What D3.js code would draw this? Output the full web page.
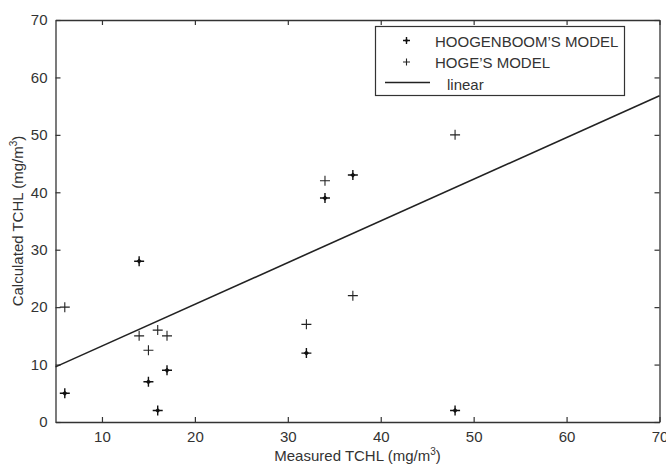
<html>
<head>
	<script src="https://d3js.org/d3.v7.min.js"></script>
	<style>
		body { margin: 0; background: #fff; }
		text { font-family: "Liberation Sans", Arial, sans-serif; fill: #333; }
	</style>
</head>
<body>
	<script>
		// measured TCHL (same x for both models)
		var measured = [6, 14, 15, 16, 17, 32, 34, 37, 48];
		var hoogenboom = [5, 28, 7, 2, 9, 12, 39, 43, 2];
		var hoge = [20, 15, 12.5, 16, 15, 17, 42, 22, 50];
		// linear fit end points
		var linearX = [5, 70];
		var linearY = [9.6, 56.8];
		var xTicks = [10, 20, 30, 40, 50, 60, 70];
		var yTicks = [0, 10, 20, 30, 40, 50, 60, 70];
		var legendNames = ["HOOGENBOOM\u2019S MODEL", "HOGE\u2019S MODEL", "linear"];

		var w = 666, h = 466;
		var mL = 55.5, mR = 659.5, mT = 20, mB = 422; // plot box edges
		var ink = "#333";

		var svg = d3.select("body").append("svg").attr("width", w).attr("height", h);

		var x = d3.scaleLinear().domain([5, 70]).range([mL, mR]);
		var y = d3.scaleLinear().domain([0, 70]).range([mB, mT]);

		// axes: labels outside, ticks inward (top/right mirrors)
		var xAxis = d3.axisBottom(x).tickValues(xTicks).tickSizeInner(-5).tickSizeOuter(0).tickPadding(9);
		var yAxis = d3.axisLeft(y).tickValues(yTicks).tickSizeInner(-5).tickSizeOuter(0).tickPadding(8);
		var gx = svg.append("g").attr("transform", "translate(0," + mB + ")").call(xAxis);
		var gy = svg.append("g").attr("transform", "translate(" + mL + ",0)").call(yAxis);
		var gxt = svg.append("g").attr("transform", "translate(0," + mT + ")")
			.call(d3.axisTop(x).tickValues(xTicks).tickSizeInner(-5).tickSizeOuter(0).tickFormat(""));
		var gyr = svg.append("g").attr("transform", "translate(" + mR + ",0)")
			.call(d3.axisRight(y).tickValues(yTicks).tickSizeInner(-5).tickSizeOuter(0).tickFormat(""));
		[gx, gy, gxt, gyr].forEach(function(g){
			g.select(".domain").attr("stroke", ink).attr("stroke-width", 1.3);
			g.selectAll(".tick line").attr("stroke", ink).attr("stroke-width", 1.2);
			g.selectAll(".tick text").attr("fill", ink).style("font-size", "15px")
				.style("font-family", "'Liberation Sans', Arial, sans-serif");
		});

		// linear fit
		var line = d3.line().x(function(d){ return x(d[0]); }).y(function(d){ return y(d[1]); });
		svg.append("path").attr("d", line(d3.zip(linearX, linearY)))
			.attr("fill", "none").attr("stroke", "#222").attr("stroke-width", 1.6);

		// markers
		function plus(g, cx, cy, s) {
			g.append("path").attr("d", "M" + (cx - 5 * s) + "," + cy + "H" + (cx + 5 * s) + "M" + cx + "," + (cy - 5 * s) + "V" + (cy + 5 * s))
				.attr("stroke", "#222").attr("stroke-width", 1.1).attr("fill", "none");
		}
		function star(g, cx, cy, s) {
			g.append("path").attr("d", "M" + (cx - 5 * s) + "," + cy + "H" + (cx + 5 * s) + "M" + cx + "," + (cy - 5 * s) + "V" + (cy + 5 * s))
				.attr("stroke", "#111").attr("stroke-width", 1.4).attr("fill", "none");
			var r = 2.6 * s;
			g.append("path").attr("d", "M" + (cx - r) + "," + cy + "L" + cx + "," + (cy - r) + "L" + (cx + r) + "," + cy + "L" + cx + "," + (cy + r) + "Z")
				.attr("fill", "#111");
		}
		var pts = svg.append("g");
		measured.forEach(function(m, i){
			plus(pts, x(m), y(hoge[i]), 1);
			star(pts, x(m), y(hoogenboom[i]), 1);
		});

		// legend
		var lg = svg.append("g");
		lg.append("rect").attr("x", 375.5).attr("y", 26.5).attr("width", 249).attr("height", 69)
			.attr("fill", "#fff").attr("stroke", ink).attr("stroke-width", 1.2);
		star(lg, 406.5, 40.5, 0.7);
		plus(lg, 406.5, 62, 0.7);
		lg.append("line").attr("x1", 385).attr("x2", 430).attr("y1", 82.5).attr("y2", 82.5)
			.attr("stroke", "#222").attr("stroke-width", 1.6);
		lg.selectAll("text.lbl").data(legendNames).enter().append("text")
			.attr("x", function(d, i){ return i === 2 ? 447 : 435; })
			.attr("y", function(d, i){ return 46.5 + i * 21.5; })
			.style("font-size", "15px")
			.text(function(d){ return d; });

		// axis titles
		var xl = svg.append("text").attr("x", (mL + mR) / 2).attr("y", 461)
			.attr("text-anchor", "middle").style("font-size", "15px");
		xl.append("tspan").text("Measured TCHL (mg/m");
		xl.append("tspan").attr("dy", -6).style("font-size", "10px").text("3");
		xl.append("tspan").attr("dy", 6).text(")");

		var yl = svg.append("text").attr("transform", "translate(23," + ((mT + mB) / 2) + ") rotate(-90)")
			.attr("text-anchor", "middle").style("font-size", "15px");
		yl.append("tspan").text("Calculated TCHL (mg/m");
		yl.append("tspan").attr("dy", -6).style("font-size", "10px").text("3");
		yl.append("tspan").attr("dy", 6).text(")");
	</script>
</body>
</html>
